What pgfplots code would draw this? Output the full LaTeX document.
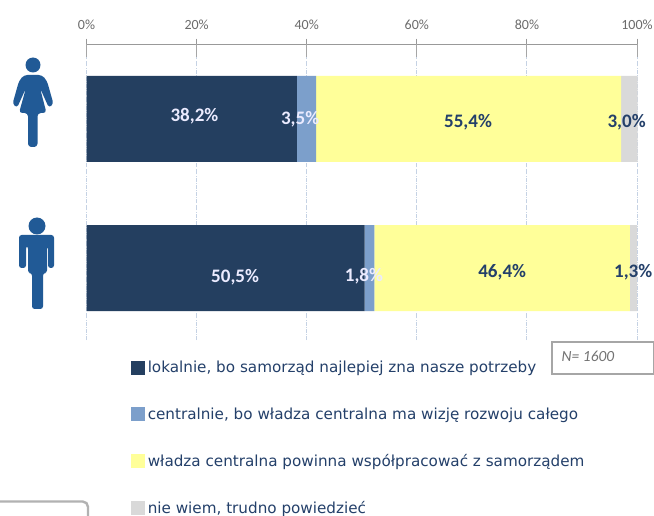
\documentclass[border=0pt]{standalone}
\usepackage{pgfplots}
\pgfplotsset{compat=1.18}
\usepackage{fontspec}
\setmainfont{DejaVu Sans}
\newfontfamily\lab{Carlito}
\definecolor{cdark}{HTML}{243F60}
\definecolor{cblue}{HTML}{7C9FCB}
\definecolor{cyel}{HTML}{FFFF99}
\definecolor{cgray}{HTML}{D9D9D9}
\definecolor{ctxt}{HTML}{24406A}
\definecolor{cicon}{HTML}{215A96}
\definecolor{cgrid}{HTML}{C5D2E4}
\begin{document}
\begin{tikzpicture}
\clip (0,0) rectangle (490.5pt,386.25pt);
\fill[white] (0,0) rectangle (490.5pt,386.25pt);
\begin{scope}[shift={(0,386.25pt)},x=0.75pt,y=-0.75pt]
% female icon
\fill[cicon] (33,65) circle (7.5);
\fill[cicon,rounded corners=2.5pt] (24,75) -- (42,75) -- (47,81) -- (53.5,104) -- (49,108) -- (40,88) -- (46.5,113) -- (37.5,113) -- (37.5,147) -- (28,147) -- (28,113) -- (19,113) -- (26,88) -- (17,108) -- (12.5,104) -- (19,81) -- cycle;
% male icon
\fill[cicon] (37,226) circle (8.5);
\fill[cicon,rounded corners=2pt] (19,235) -- (54,235) -- (54,268) -- (48,268) -- (48,246) -- (47,246) -- (47,273) -- (43,273) -- (43,309) -- (32,309) -- (32,273) -- (28,273) -- (28,246) -- (26,246) -- (26,268) -- (19,268) -- cycle;
\end{scope}
\begin{axis}[
  at={(64.875pt,131.25pt)},anchor=south west,
  scale only axis,width=412.9pt,height=222pt,
  xbar stacked,bar width=64.5pt,
  xmin=0,xmax=100,ymin=-0.483,ymax=1.503,
  axis y line=none,
  axis x line*=top,
  axis line style={draw=gray!80,-},
  xtick={0,20,40,60,80,100},
  xticklabel={\pgfmathprintnumber{\tick}\%},
  /pgf/number format/assume math mode=true,
  xticklabel style={font=\lab\fontsize{10.5pt}{12pt}\selectfont,text=gray!85!black},
  tick style={draw=gray!80,thick},
  tick align=outside,major tick length=4pt,
  xtick pos=upper,
  x tick label style={yshift=3.2pt},
  xmajorgrids,grid style={cgrid,densely dashdotted,line width=0.7pt},
  clip=false,
  legend cell align=left,
  legend style={at={(0.081,-0.062)},anchor=north west,draw=none,fill=none,
    font=\fontsize{11.4pt}{13pt}\selectfont\color{ctxt},
    row sep=20.75pt,inner sep=0pt,outer sep=0pt},
  legend image code/.code={\fill[#1] (0pt,-5.2pt) rectangle (10.5pt,5.2pt);},
]
\addplot[fill=cdark,draw=none] coordinates {(50.5,0) (38.2,1)};
\addplot[fill=cblue,draw=none] coordinates {(1.8,0) (3.5,1)};
\addplot[fill=cyel,draw=none] coordinates {(46.4,0) (55.4,1)};
\addplot[fill=cgray,draw=none] coordinates {(1.3,0) (3.0,1)};
\legend{{lokalnie, bo samorząd najlepiej zna nasze potrzeby},{centralnie, bo władza centralna ma wizję rozwoju całego},{władza centralna powinna współpracować z samorządem},{nie wiem, trudno powiedzieć}}
\end{axis}
% overlay: value labels and short grey tick stubs
\begin{axis}[
  at={(64.875pt,131.25pt)},anchor=south west,
  scale only axis,width=412.9pt,height=222pt,
  xmin=0,xmax=100,ymin=-0.483,ymax=1.503,
  axis y line=none,axis x line*=top,
  axis line style={draw=none},
  xtick={0,20,40,60,80,100},xticklabels={},
  tick style={draw=gray!70,line width=0.7pt},
  tick align=inside,major tick length=10pt,xtick pos=upper,
  clip=false,
  point meta=explicit,
  /pgf/number format/assume math mode=true,
  nodes near coords={\pgfmathprintnumber[fixed,fixed zerofill,precision=1,use comma]{\pgfplotspointmeta}\%},
  nodes near coords style={anchor=center,inner sep=0pt,font=\lab\bfseries\fontsize{14.3pt}{16pt}\selectfont},
]
\addplot[draw=none,mark=none,nodes near coords style={text=white!92!blue}] coordinates {(19.6,1.02) [38.2] (38.8,1.0) [3.5] (27,-0.065) [50.5] (50.4,-0.055) [1.8]};
\addplot[draw=none,mark=none,nodes near coords style={text=ctxt}] coordinates {(69.3,0.975) [55.4] (98.1,0.975) [3.0] (75.5,-0.025) [46.4] (99.3,-0.025) [1.3]};
\end{axis}
\begin{scope}[shift={(0,386.25pt)},x=0.75pt,y=-0.75pt]
\draw[gray!70,line width=0.9pt] (552,342) rectangle (654,374);
\node[font=\lab\itshape\fontsize{11.6pt}{13pt}\selectfont,text=gray!90!black] at (588,356) {N= 1600};
\draw[gray!60,line width=1.8pt,rounded corners=4pt] (-10,530) -- (-10,501.5) -- (88,501.5) -- (88,530);
\end{scope}
\end{tikzpicture}
\end{document}
